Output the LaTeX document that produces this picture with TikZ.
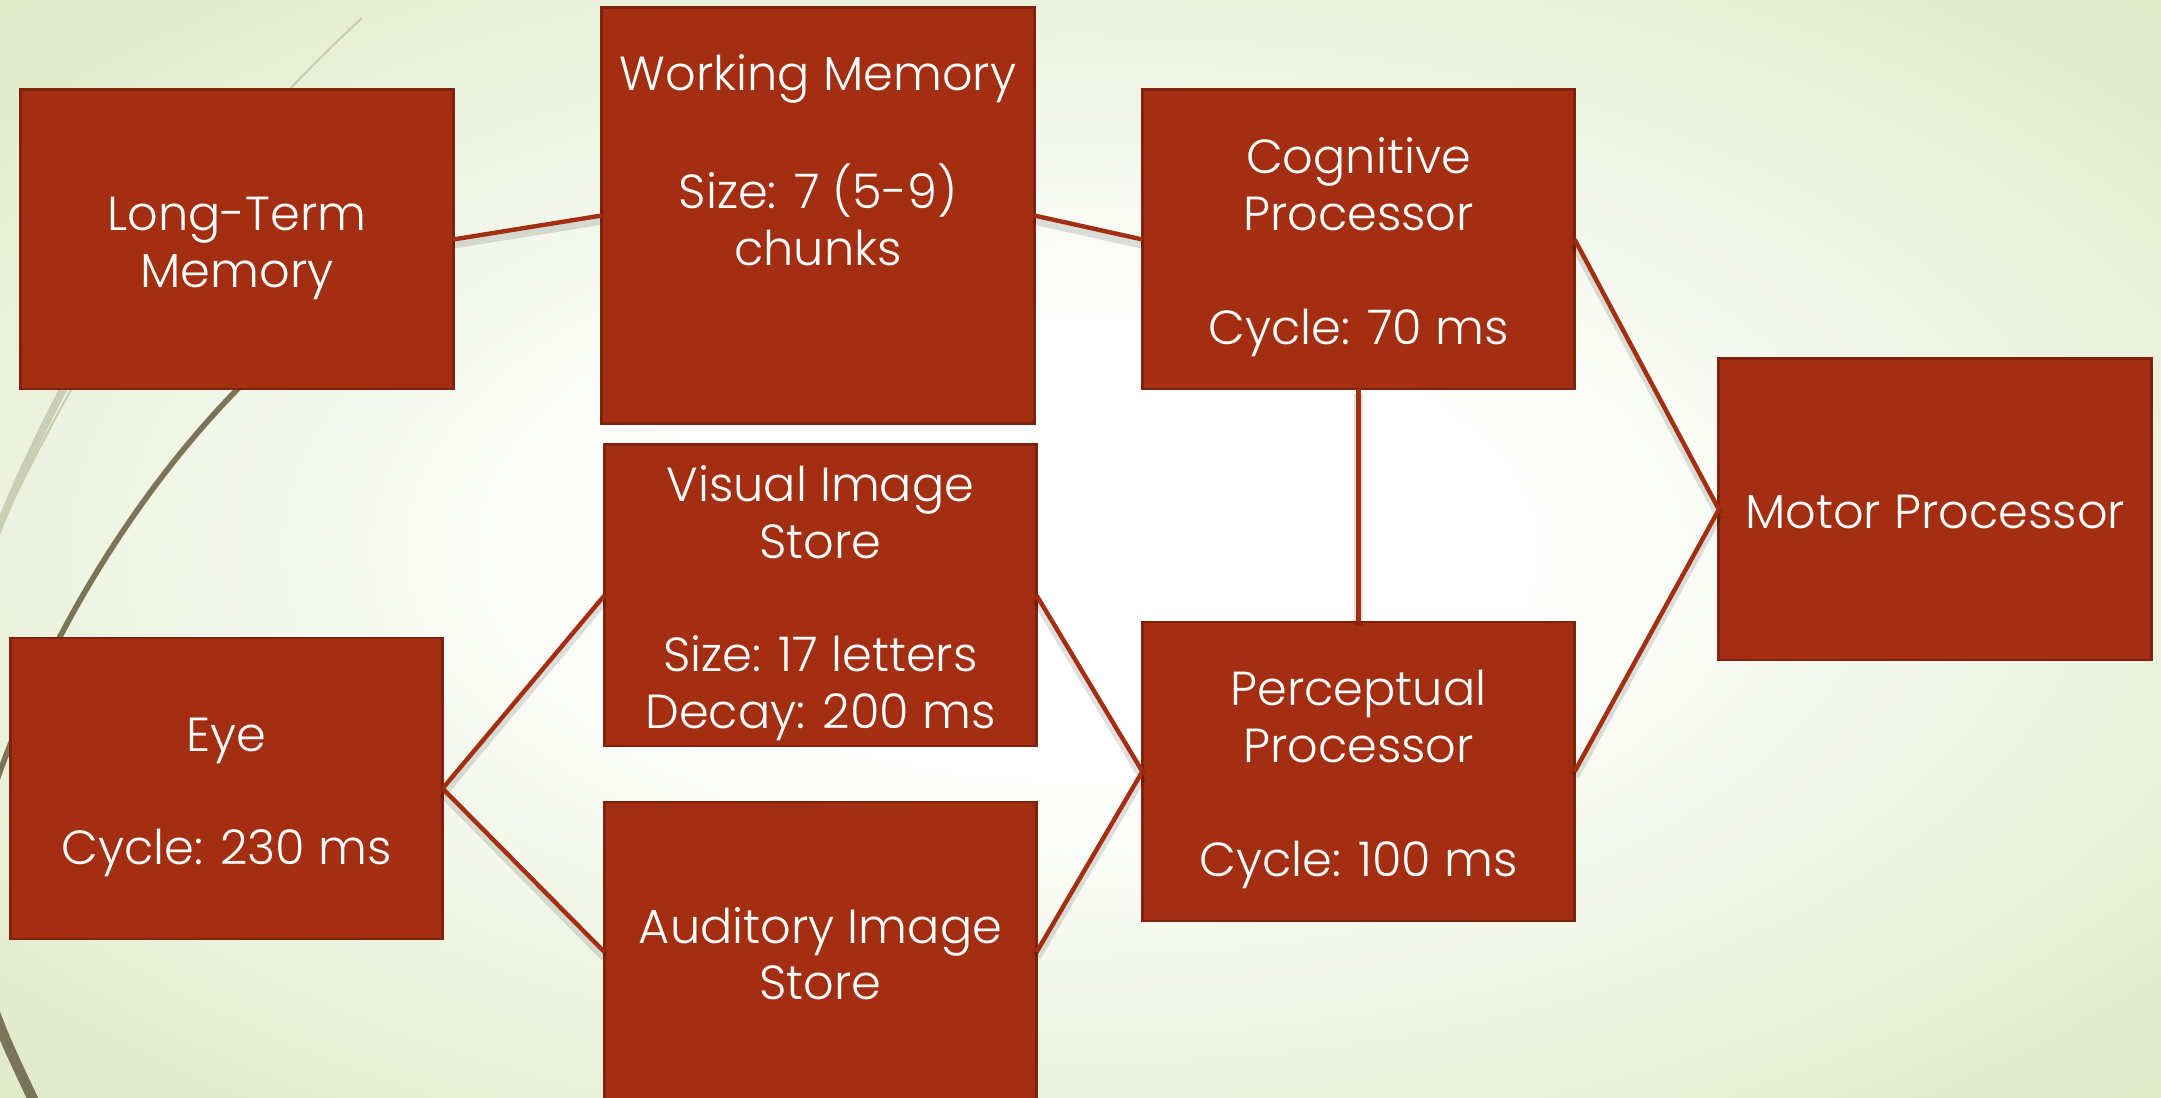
\documentclass[tikz,border=0pt]{standalone}
\usepackage{fontspec}
\setmainfont{Poppins}[UprightFont=* Light]
\definecolor{boxred}{RGB}{164,46,17}
\definecolor{boxedge}{RGB}{128,35,12}
\definecolor{bgmid}{RGB}{236,242,222}
\definecolor{bgedge}{RGB}{221,231,194}
\definecolor{arclight}{RGB}{201,206,180}
\definecolor{arcdark}{RGB}{122,117,89}
\pgfdeclareradialshading{bgshade}{\pgfpoint{0bp}{0bp}}{color(0bp)=(white); color(10bp)=(white); color(25bp)=(bgmid); color(38bp)=(bgedge); color(50bp)=(bgedge)}
\newcommand\boxtext[1]{\raisebox{0pt}[\dimexpr\height+4.6pt\relax][\depth]{\begin{tabular}{@{}c@{}}#1\end{tabular}}}
\tikzset{
  procbox/.style={draw=boxedge, line width=0.8pt, fill=boxred, text=white,
    rectangle, inner sep=0pt, outer sep=0pt,
    minimum width=4.32cm, minimum height=2.99cm,
    font=\fontsize{13.6pt}{16.2pt}\selectfont},
  link/.style={draw=boxred, line width=1.25pt,
    preaction={draw=black, draw opacity=0.12, line width=2.6pt, transform canvas={yshift=-1.3pt}}},
}
\begin{document}
\begin{tikzpicture}[x=0.01cm, y=-0.01cm]
\useasboundingbox (0,0) rectangle (2161,1098);
\shade[shading=bgshade] (0,0) rectangle (2161,1098);
% decorative arcs
\draw[arclight, line width=0.6pt] (362,18) .. controls (230,140) and (110,290) .. (-8,545);
\draw[arclight, line width=2.2pt] (150,250) .. controls (110,300) and (40,420) .. (-8,545);
\draw[arcdark, line width=1.6pt] (330,310) .. controls (200,400) and (60,590) .. (-10,800);
\draw[arcdark, line width=3pt] (-10,1000) .. controls (5,1040) .. (38,1110);
% boxes
\node[procbox] (ltm) at (237,239.5) {\boxtext{Long-Term\\Memory}};
\node[procbox, minimum height=4.15cm] (wm) at (818,215.5) {\boxtext{Working Memory\\ \\Size: 7 (5-9)\\chunks\\ \\ \mbox{}}};
\node[procbox] (cp) at (1358.5,239.5) {\boxtext{Cognitive\\Processor\\ \\Cycle: 70 ms}};
\node[procbox, minimum height=3.01cm] (motor) at (1935,509.5) {\boxtext{Motor Processor}};
\node[procbox, minimum height=3.01cm] (vis) at (820.5,595.5) {\boxtext{Visual Image\\Store\\ \\Size: 17 letters\\Decay: 200 ms}};
\node[procbox, minimum height=3.01cm] (eye) at (226.5,788.5) {\boxtext{Eye\\ \\Cycle: 230 ms}};
\node[procbox, minimum height=3.0cm] (ais) at (820.5,952) {\boxtext{Auditory Image\\Store}};
\node[procbox] (pp) at (1358.5,771.5) {\boxtext{Perceptual\\Processor\\ \\Cycle: 100 ms}};
% connectors
\draw[link] (ltm.east) -- (wm.west);
\draw[link] (wm.east) -- (cp.west);
\draw[link] (cp.south) -- (pp.north);
\draw[link] (cp.east) -- (motor.west);
\draw[link] (pp.east) -- (motor.west);
\draw[link] (eye.east) -- (vis.west);
\draw[link] (eye.east) -- (ais.west);
\draw[link] (vis.east) -- (pp.west);
\draw[link] (ais.east) -- (pp.west);
\end{tikzpicture}
\end{document}
